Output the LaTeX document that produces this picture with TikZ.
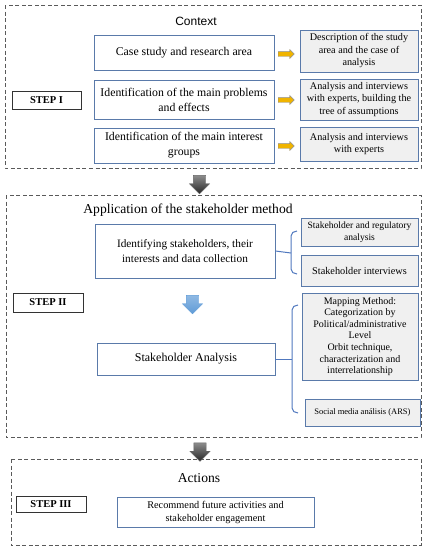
\documentclass[tikz,border=0pt]{standalone}
\usepackage{fontspec}
\setmainfont{Liberation Serif}
\newfontfamily\ctxfont{Liberation Sans}
\usetikzlibrary{shapes.arrows,calc}
\definecolor{boxblue}{RGB}{90,122,170}
\definecolor{braceblue}{RGB}{80,120,190}
\definecolor{dashgray}{RGB}{90,90,90}
\definecolor{rfill}{RGB}{240,240,240}
\definecolor{yel}{RGB}{240,180,0}
\definecolor{lblue}{RGB}{95,155,215}
\tikzset{
  section/.style={draw=dashgray, line width=0.9pt, dash pattern=on 4pt off 2.5pt},
  mainbox/.style={draw=boxblue, line width=0.8pt, fill=white, align=center, inner sep=2pt},
  rbox/.style={draw=boxblue, line width=0.8pt, fill=rfill, align=center, inner sep=2pt},
  stepbox/.style={draw=black!80, line width=0.8pt, fill=white, align=center, inner sep=1pt, font=\fontsize{10.5}{12}\selectfont\bfseries},
  yarrow/.style={single arrow, draw=black!45, fill=yel, line width=0.4pt, minimum height=16pt, minimum width=9pt, single arrow head extend=2pt, inner sep=2.2pt},
  garrow/.style={single arrow, shape border rotate=270, draw=black!60, top color=black!45, bottom color=black!85, line width=0.4pt, minimum height=16pt, minimum width=20pt, single arrow head extend=4pt, inner sep=6pt},
  barrow/.style={single arrow, shape border rotate=270, draw=lblue, top color=lblue!70, bottom color=lblue, line width=0.3pt, minimum height=16pt, minimum width=20pt, single arrow head extend=4pt, inner sep=6pt},
  bracestyle/.style={draw=braceblue, line width=1pt},
  mainfont/.style={font=\fontsize{11.8}{15}\selectfont},
  rfont/.style={font=\fontsize{10.2}{12.5}\selectfont},
}
\begin{document}
\begin{tikzpicture}[x=1pt,y=-1pt]
\useasboundingbox (0,0) rectangle (427,550);
% sections
\draw[section] (5,5) rectangle (421,168);
\draw[section] (6,195) rectangle (421,437);
\draw[section] (11,459) rectangle (421,545);

% STEP I
\node[font=\ctxfont\fontsize{12}{14}\selectfont] (ctx) at (196,21) {Context};
\node[mainbox, mainfont, minimum width=180pt, minimum height=35pt] (b1) at (184,52.5) {Case study and research area};
\node[mainbox, mainfont, minimum width=180pt, minimum height=39pt] (b2) at (184,99.5) {Identification of the main problems\\and effects};
\node[mainbox, mainfont, minimum width=180pt, minimum height=35pt] (b3) at (184,145.5) {Identification of the main interest\\groups};
\node[rbox, rfont, minimum width=118pt, minimum height=42pt] (r1) at (359,51) {Description of the study\\area and the case of\\analysis};
\node[rbox, rfont, minimum width=118pt, minimum height=41pt] (r2) at (359,99.5) {Analysis and interviews\\with experts, building the\\tree of assumptions};
\node[rbox, rfont, minimum width=118pt, minimum height=34pt] (r3) at (359,144) {Analysis and interviews\\with experts};
\node[stepbox, minimum width=69pt, minimum height=18pt] (s1) at (46.5,100) {STEP I};
\node[yarrow] (ya1) at (285,54) {};
\node[yarrow] (ya2) at (285,100) {};
\node[yarrow] (ya3) at (285,146) {};

\node[garrow] (ga1) at (199.5,181.5) {};

% STEP II
\node[font=\fontsize{13.6}{15}\selectfont] (t2) at (188,210) {Application of the stakeholder method};
\node[mainbox, font=\fontsize{11.3}{15}\selectfont, minimum width=180pt, minimum height=54pt] (b4) at (185,251) {Identifying stakeholders, their\\interests and data collection};
\node[rbox, font=\fontsize{9.6}{12}\selectfont, minimum width=117pt, minimum height=28pt] (r4) at (359.5,232) {Stakeholder and regulatory\\analysis};
\node[rbox, font=\fontsize{10.3}{12}\selectfont, minimum width=117pt, minimum height=31pt] (r5) at (359.5,270.5) {Stakeholder interviews};
\node[stepbox, minimum width=70pt, minimum height=19pt] (s2) at (48,302.5) {STEP II};
\node[barrow] (ba1) at (192.5,301.5) {};
\node[rbox, font=\fontsize{10}{11.6}\selectfont, minimum width=116pt, minimum height=87pt] (r6) at (360,336.5) {Mapping Method:\\Categorization by\\Political/administrative\\Level\\Orbit technique,\\characterization and\\interrelationship};
\node[mainbox, font=\fontsize{12}{14}\selectfont, minimum width=178pt, minimum height=32pt] (b5) at (186,359) {Stakeholder Analysis};
\node[rbox, font=\fontsize{8.5}{10}\selectfont, minimum width=115pt, minimum height=27pt] (r7) at (362.5,412.5) {Social media análisis (ARS)};

% braces
\coordinate (k1) at (291,253);
\draw[bracestyle] (b4.east) -- (k1);
\draw[bracestyle] (297,231) to[out=180,in=90] (291,236) -- (291,269) to[out=-90,in=180] (297,274);
\coordinate (k2) at (292,359);
\draw[bracestyle] (b5.east) -- (k2);
\draw[bracestyle] (298,305) to[out=180,in=90] (292,310) -- (292,408) to[out=-90,in=180] (298,413);

\node[garrow] (ga2) at (200,449) {};

% STEP III
\node[font=\fontsize{13.6}{15}\selectfont] (t3) at (199,478) {Actions};
\node[stepbox, minimum width=70pt, minimum height=16pt] (s3) at (51,504) {STEP III};
\node[mainbox, font=\fontsize{10.3}{13}\selectfont, minimum width=197pt, minimum height=30pt] (b6) at (215.5,512) {Recommend future activities and\\stakeholder engagement};
\end{tikzpicture}
\end{document}
